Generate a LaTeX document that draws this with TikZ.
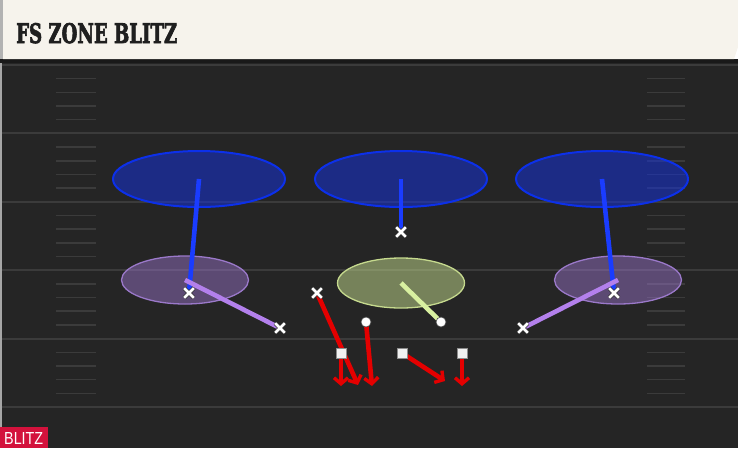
\documentclass[tikz,border=0pt]{standalone}
\usepackage{fontspec}
\newfontfamily\titlefont[FakeBold=3]{DejaVu Serif}
\setsansfont{Liberation Sans}
\usetikzlibrary{arrows.meta,shapes.geometric,shapes.misc}
\pgfdeclarelayer{field}
\pgfdeclarelayer{zones}
\pgfdeclarelayer{routes}
\pgfsetlayers{field,zones,routes,main}
\definecolor{turf}{HTML}{252525}
\definecolor{yardline}{HTML}{3B3B3B}
\definecolor{cream}{HTML}{F6F3EC}
\definecolor{deepfill}{HTML}{1432E6}
\definecolor{deepdraw}{HTML}{0C30EA}
\definecolor{curlfill}{HTML}{A078D2}
\definecolor{curldraw}{HTML}{9B79CA}
\definecolor{holefill}{HTML}{C8E090}
\definecolor{holedraw}{HTML}{C6DA8E}
\definecolor{droplue}{HTML}{1A3CFF}
\definecolor{curlline}{HTML}{B380EC}
\definecolor{holeline}{HTML}{D8F0A0}
\definecolor{blitzred}{HTML}{E40000}
\definecolor{badge}{HTML}{D3123C}

\begin{document}
\begin{tikzpicture}[x=1pt,y=-1pt,
    zone/.style={ellipse,inner sep=0pt,fill opacity=0.5},
    deep/.style={zone,draw=deepdraw,fill=deepfill,line width=2pt,minimum width=172pt,minimum height=56pt},
    curl/.style={zone,draw=curldraw,fill=curlfill,fill opacity=0.45,line width=1.3pt,minimum width=127pt,minimum height=48pt},
    hole/.style={zone,draw=holedraw,fill=holefill,line width=1.3pt,minimum width=127pt,minimum height=50pt},
    xmark/.style={cross out,draw=white,line width=2.6pt,minimum size=7pt,inner sep=0pt,preaction={draw=black!80,line width=4pt}},
    dmark/.style={circle,fill=white,draw=black!70,line width=0.6pt,minimum size=10pt,inner sep=0pt},
    omark/.style={rectangle,fill=white!94!black,draw=black!45,line width=0.6pt,minimum size=10pt,inner sep=0pt},
    drop/.style={line width=4.6pt,droplue},
    cover/.style={line width=4.6pt,curlline},
    spy/.style={line width=4.6pt,holeline},
    blitz/.style={line width=4.6pt,blitzred,-{Straight Barb[length=6pt,width=14pt,line width=3.4pt]}}]
    \useasboundingbox (0,0) rectangle (738,448);

    % field
    \begin{pgfonlayer}{field}
        \fill[turf] (0,59) rectangle (738,448);
        \fill[black!35] (0,59) rectangle (2,448);
        \fill[black!90] (0,59) rectangle (738,63);
        \foreach \i in {0,...,5}
            \draw[yardline,line width=2pt] (2,65+68.4*\i) -- (738,65+68.4*\i);
        \foreach \i in {0,...,4}
            \foreach \j in {1,...,4} {
                \draw[yardline,line width=1.5pt] (56,65+68.4*\i+13.68*\j) -- (96,65+68.4*\i+13.68*\j);
                \draw[yardline,line width=1.5pt] (647,65+68.4*\i+13.68*\j) -- (685,65+68.4*\i+13.68*\j);
            }
        % header
        \fill[cream] (3,0) -- (738,0) -- (738,47) -- (734,59) -- (3,59) -- cycle;
        \fill[black!30] (0,0) rectangle (3,59);
    \end{pgfonlayer}
    \node[anchor=base west,inner sep=0pt,text=black!88] (title) at (16,43)
        {\resizebox{161pt}{20pt}{\titlefont\bfseries FS ZONE BLITZ}};
    \fill[badge] (0,427) rectangle (48,448);
    \node[anchor=base west,inner sep=0pt,text=white] (tag) at (4,444.5)
        {\resizebox{39pt}{12pt}{\sffamily BLITZ}};

    % zones
    \begin{pgfonlayer}{zones}
        \node[deep] (deepL) at (199,179) {};
        \node[deep] (deepM) at (401,179) {};
        \node[deep] (deepR) at (602,179) {};
        \node[curl] (curlL) at (185,280) {};
        \node[curl] (curlR) at (618,280) {};
        \node[hole] (hole) at (401,283) {};
    \end{pgfonlayer}

    % defense
    \node[xmark] (cbL) at (189,293) {};
    \node[xmark] (fs) at (401,232) {};
    \node[xmark] (cbR) at (614,293) {};
    \node[xmark] (olbL) at (280,328) {};
    \node[xmark] (olbR) at (523,328) {};
    \node[xmark] (ilb) at (317,293) {};
    \node[dmark] (dl) at (366,322) {};
    \node[dmark] (dt) at (441,322) {};
    \node[omark] (deL) at (341,353) {};
    \node[omark] (nt) at (402,353) {};
    \node[omark] (deR) at (462,353) {};
    %% blitz ends
    \coordinate (ilbEnd) at (358,385);
    \coordinate (dlEnd) at (372,386);
    \coordinate (deLEnd) at (341,386);
    \coordinate (ntEnd) at (445,381);
    \coordinate (deREnd) at (462,386);

    % drops
    \begin{pgfonlayer}{routes}
        \draw[drop] (deepL.center) -- (cbL.center);
        \draw[drop] (deepM.center) -- (fs.center);
        \draw[drop] (deepR.center) -- (cbR.center);
        \draw[cover] (curlL.center) -- (olbL.center);
        \draw[cover] (curlR.center) -- (olbR.center);
        \draw[spy] (hole.center) -- (dt.center);
        %% rush
        \draw[blitz] (ilb.center) -- (ilbEnd);
        \draw[blitz] (dl.center) -- (dlEnd);
        \draw[blitz] (deL.center) -- (deLEnd);
        \draw[blitz] (nt.center) -- (ntEnd);
        \draw[blitz] (deR.center) -- (deREnd);
    \end{pgfonlayer}
\end{tikzpicture}
\end{document}
